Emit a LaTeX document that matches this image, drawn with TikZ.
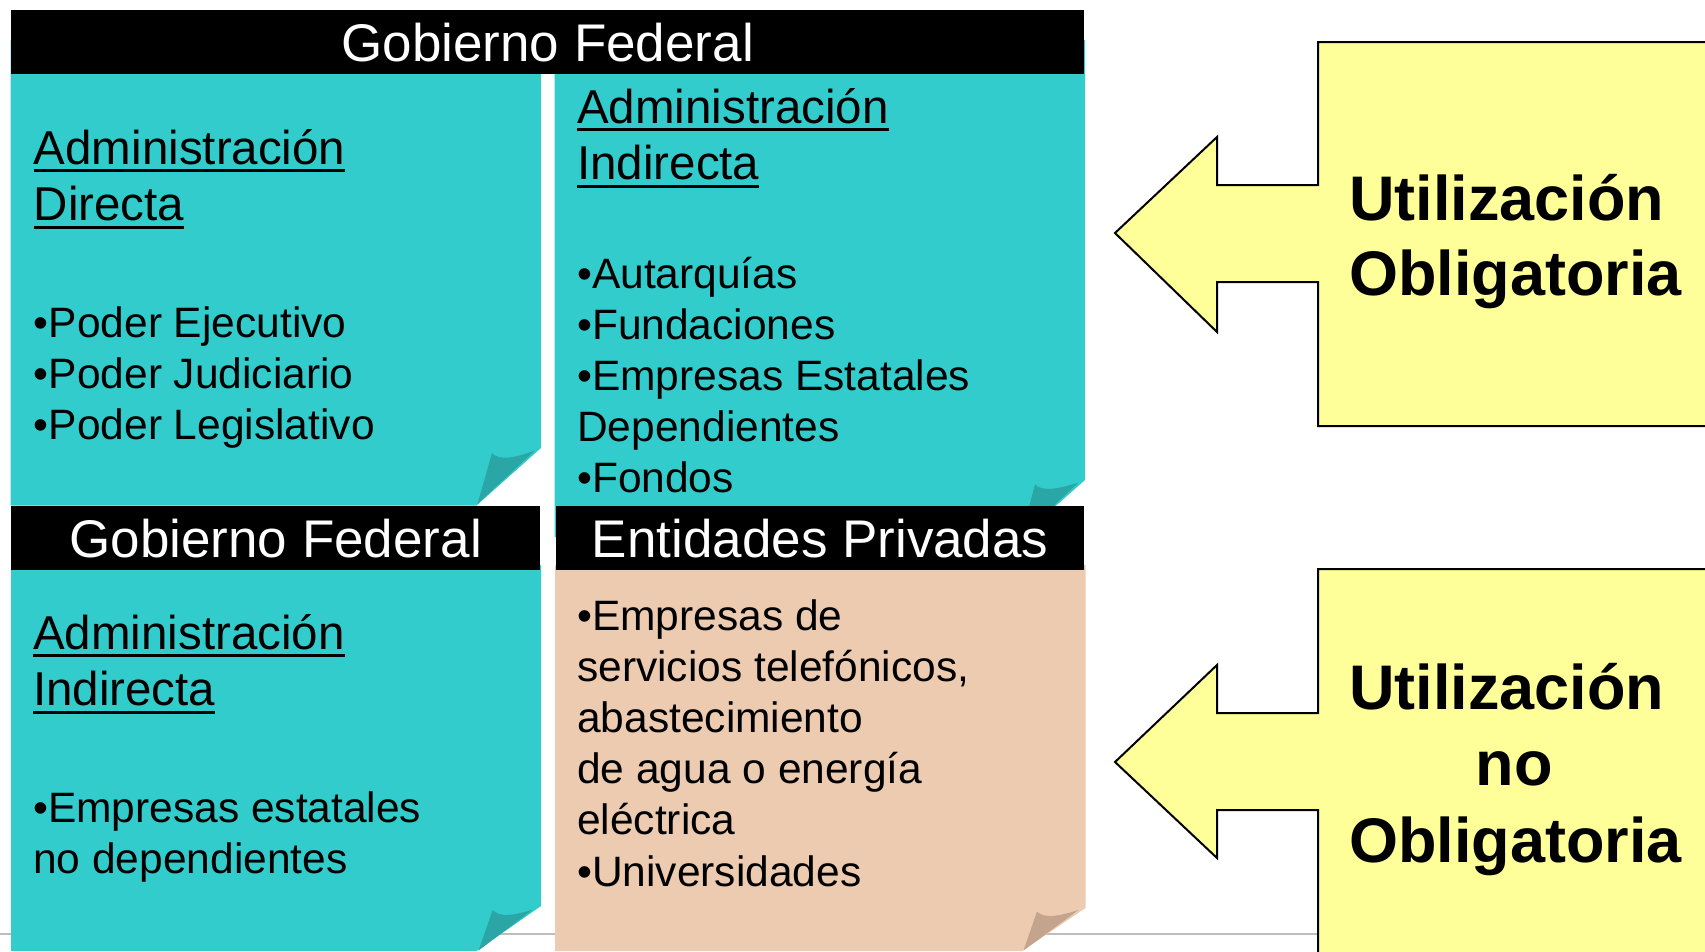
\documentclass[tikz,border=0pt]{standalone}
\usepackage{fontspec}
\setmainfont{Liberation Sans}
\definecolor{tealbox}{HTML}{33CCCC}
\definecolor{tealflap}{HTML}{2AA6A6}
\definecolor{salmonbox}{HTML}{EDCBB0}
\definecolor{salmonflap}{HTML}{C4A48C}
\definecolor{yell}{HTML}{FFFF99}
\definecolor{rulegray}{HTML}{BDBDBD}
\newsavebox\ulbox
\newcommand\myul[1]{\leavevmode\sbox\ulbox{#1}\rlap{\rule[-8pt]{\wd\ulbox}{3pt}}\usebox\ulbox}
\newcommand\txtlines[1]{\parbox[t]{600pt}{\raggedright\leavevmode #1}}
\begin{document}
\begin{tikzpicture}[x=1pt,y=-1pt,
  bar/.style={fill=black, text=white, font=\fontsize{53}{60}\selectfont,
    text height=40pt, text depth=0pt, inner sep=0pt, minimum height=63.5pt, anchor=north west},
  headtxt/.style={anchor=base west, inner sep=0pt, font=\fontsize{47.5}{56.5}\selectfont},
  bodytxt/.style={anchor=base west, inner sep=0pt, font=\fontsize{42.5}{51.2}\selectfont},
  calltxt/.style={anchor=base west, inner sep=0pt, font=\bfseries\fontsize{63}{75.5}\selectfont},
  tealpaper/.style={fill=tealbox},
  tealfold/.style={fill=tealflap},
  salmonpaper/.style={fill=salmonbox},
  salmonfold/.style={fill=salmonflap},
  callout/.style={fill=yell, draw=black, line width=2pt, line join=miter}]
\useasboundingbox (0,0) rectangle (1705,951);
\clip (0,0) rectangle (1705,951);

% grey rule
\draw[rulegray, line width=2pt] (0,933.5) -- (1318,933.5);

% top-left paper
\path[tealpaper] (10.5,40) -- (541,40) -- (541,448) -- (476.5,505.5) -- (10.5,505.5) -- cycle;
\path[tealfold] (492,453) .. controls (499,461) and (515,458) .. (535,450.5) -- (477.5,504) -- cycle;
% top-right paper
\path[tealpaper] (554.7,40) -- (1085,40) -- (1085,480) -- (1020.5,537) -- (554.7,537) -- cycle;
\path[tealfold] (1035,484.3) .. controls (1042,492) and (1058,489) .. (1078.5,482.5) -- (1021.5,536) -- cycle;
% bottom-left paper
\path[tealpaper] (11,565) -- (541,565) -- (541,906) -- (476.5,951) -- (11,951) -- cycle;
\path[tealfold] (492.7,910) .. controls (500,918) and (515,915) .. (533,909.5) -- (478.5,950.5) -- cycle;
% bottom-right paper
\path[salmonpaper] (555,565) -- (1085.5,565) -- (1085.5,908) -- (1022,951) -- (555,951) -- cycle;
\path[salmonfold] (1037,911.5) .. controls (1044,919) and (1060,916) .. (1078.5,910) -- (1023.5,950.5) -- cycle;

% title bars
\node[bar, minimum width=1073pt] (gf1) at (11,10) {Gobierno Federal};
\node[bar, minimum width=529pt] (gf2) at (11,506) {Gobierno Federal};
\node[bar, minimum width=528pt] (ep) at (556,506) {Entidades Privadas};

% texts
\node[headtxt] (h1) at (33.7,164) {\txtlines{\myul{Administración}\\\myul{Directa}}};
\node[bodytxt] (b1) at (33.7,337) {\txtlines{•Poder Ejecutivo\\•Poder Judiciario\\•Poder Legislativo}};

\node[headtxt] (h2) at (577,123) {\txtlines{\myul{Administración}\\\myul{Indirecta}}};
\node[bodytxt] (b2) at (577,288) {\txtlines{•Autarquías\\•Fundaciones\\•Empresas Estatales\\Dependientes\\•Fondos}};

\node[headtxt] (h3) at (33,649) {\txtlines{\myul{Administración}\\\myul{Indirecta}}};
\node[bodytxt] (b3) at (33,822) {\txtlines{•Empresas estatales\\no dependientes}};

\node[bodytxt] (b4) at (577,630) {\txtlines{•Empresas de\\servicios telefónicos,\\abastecimiento\\de agua o energía\\eléctrica\\•Universidades}};

% callouts
\path[callout] (1318,42) -- (1318,185) -- (1217,185) -- (1217,137) -- (1115,233) -- (1217,332)
  -- (1217,282) -- (1318,282) -- (1318,426) -- (1730,426) -- (1730,42) -- cycle;
\path[callout] (1318,569) -- (1318,713) -- (1217,713) -- (1217,665) -- (1115,762) -- (1217,858)
  -- (1217,810) -- (1318,810) -- (1318,1000) -- (1730,1000) -- (1730,569) -- cycle;

\node[calltxt] (u1) at (1349,220) {\txtlines{Utilización\\Obligatoria}};
\node[calltxt, font=\bfseries\fontsize{63}{76.5}\selectfont] (u2) at (1349,709) {\txtlines{Utilización\\\hspace*{126.5pt}no\\Obligatoria}};
\end{tikzpicture}
\end{document}
